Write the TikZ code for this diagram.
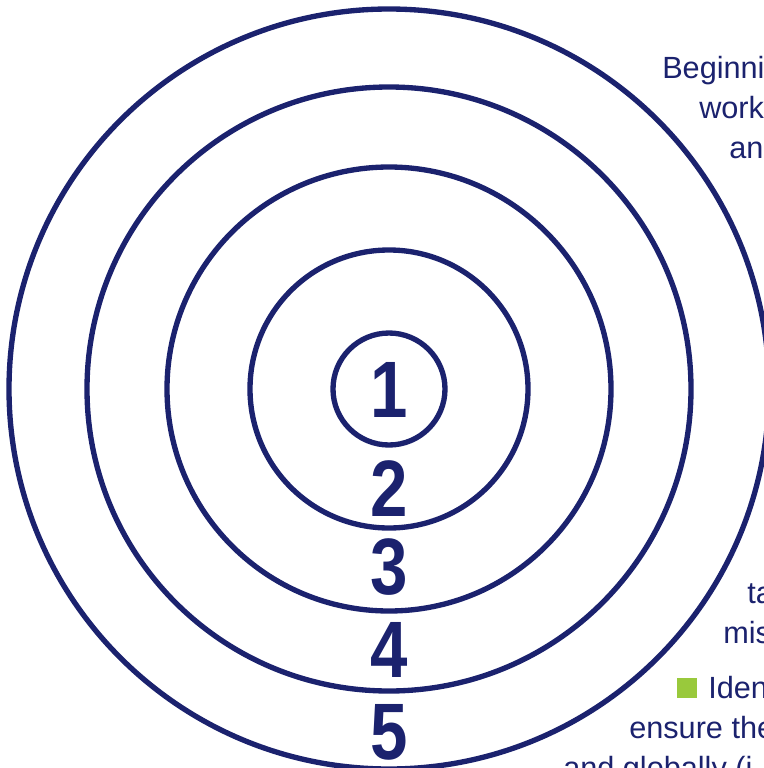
\documentclass[tikz,border=0pt]{standalone}
\usepackage{fontspec}
\setmainfont{Liberation Sans}

\begin{document}
\begin{tikzpicture}[x=0.75pt,y=0.75pt]
% ------------------------------------------------ ring theme colors
\definecolor{ring_navy}{RGB}{27,34,110}   %#1B226E
\definecolor{ring_green}{RGB}{153,201,60} %#99C93C

\useasboundingbox (0,0) rectangle (764,-768);
\clip (0,0) rectangle (764,-768);

% ------------------------------------------------ rings
\draw [line width=4pt,color=ring_navy] (389,-389) circle (56);
\draw [line width=4pt,color=ring_navy] (389,-389) circle (139);
\draw [line width=4pt,color=ring_navy] (389,-389) circle (222);
\draw [line width=4pt,color=ring_navy] (389,-389) circle (302);
\draw [line width=4pt,color=ring_navy] (389,-389) circle (380);

% ------------------------------------------------ ring numbers
\tikzset{ringnum/.style={inner sep=0pt,xscale=0.84,color=ring_navy,font=\fontsize{60}{60}\selectfont\bfseries}}
\node[ringnum] (n1) at (389,-389.5) {1};
\node[ringnum] (n2) at (389,-488.5) {2};
\node[ringnum] (n3) at (389,-567.5) {3};
\node[ringnum] (n4) at (389,-650)   {4};
\node[ringnum] (n5) at (389,-732)   {5};

% ------------------------------------------------ side texts
\tikzset{sidetext/.style={inner sep=0pt,anchor=base west,color=ring_navy,font=\fontsize{23}{27}\selectfont}}
\node[sidetext] (t1) at (662,-78)  {Beginni};
\node[sidetext] (t2) at (699,-118) {work};
\node[sidetext] (t3) at (729,-158) {an};
\node[sidetext] (t4) at (747,-603) {ta};
\node[sidetext] (t5) at (723,-643) {mis};
\fill[ring_green] (677,-678) rectangle (697,-698);
\node[sidetext] (t6) at (708,-698) {Iden};
\node[sidetext] (t7) at (629,-738) {ensure the};
\node[sidetext] (t8) at (563,-778) {and globally (i};

\end{tikzpicture}
\end{document}
